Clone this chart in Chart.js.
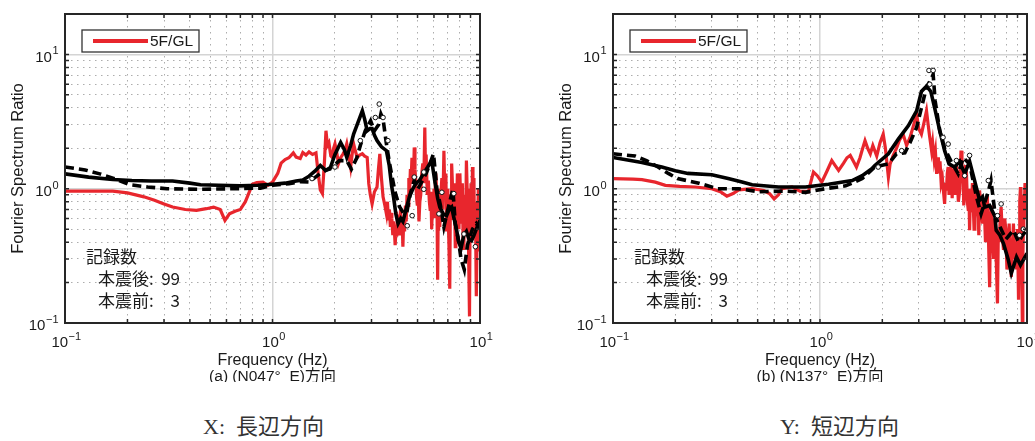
<!DOCTYPE html>
<html>
<head>
<meta charset="utf-8">
<script src="https://cdn.jsdelivr.net/npm/chart.js@4.4.1/dist/chart.umd.min.js"></script>
<style>
  body { margin: 0; background: #fff; width: 1035px; height: 441px; position: relative; overflow: hidden; }
  canvas { position: absolute; top: 0; }
  #chartX { left: 0; }
  #chartY { left: 517px; }
  .caption { position: absolute; top: 416px; font: 22px/22px "Liberation Serif", "Noto Sans CJK JP", serif; color: #333; white-space: pre; }
</style>
</head>
<body>
<canvas id="chartX" width="517" height="382"></canvas>
<canvas id="chartY" width="518" height="382"></canvas>
<div class="caption" style="left:203px">X:  長辺方向</div>
<div class="caption" style="left:780px">Y:  短辺方向</div>
<script>
// --- X direction (N047°E) ---
// 5F/GL ratio
var freqGlX = [0.1, 0.13, 0.17, 0.2, 0.24, 0.27, 0.3, 0.33, 0.38, 0.43, 0.48, 0.52, 0.56, 0.59, 0.62, 0.66, 0.7, 0.74, 0.77, 0.8,
  0.84, 0.9, 0.95, 1.0, 1.06, 1.1, 1.15, 1.2, 1.26, 1.3, 1.36, 1.4, 1.45, 1.5, 1.56, 1.62, 1.66, 1.7, 1.74, 1.78,
  1.81, 1.84, 1.87, 1.91, 1.94, 1.97, 2.0, 2.04, 2.08, 2.13, 2.19, 2.24, 2.28, 2.33, 2.38, 2.42, 2.46, 2.51, 2.56, 2.63,
  2.71, 2.78, 2.86, 2.91, 2.96, 3.02, 3.1, 3.19, 3.24, 3.29, 3.35, 3.41, 3.48,
  3.54, 3.58, 3.62, 3.66, 3.7, 3.73, 3.76, 3.8, 3.83, 3.87, 3.9, 3.94, 3.97, 4.0, 4.03, 4.07, 4.1, 4.14, 4.18, 4.22,
  4.25, 4.29, 4.33, 4.37, 4.41, 4.45, 4.5, 4.54, 4.58, 4.62, 4.65, 4.7, 4.74, 4.78, 4.82, 4.86, 4.9, 4.95, 4.99, 5.03,
  5.08, 5.13, 5.18, 5.24, 5.3, 5.36, 5.42, 5.46, 5.5, 5.57, 5.64, 5.7, 5.75, 5.8, 5.85, 5.9, 5.95, 6.0, 6.05, 6.12,
  6.2, 6.25, 6.28, 6.32, 6.36, 6.4, 6.47, 6.55, 6.62, 6.7, 6.75, 6.8, 6.85, 6.9, 6.95, 7.0, 7.08, 7.15, 7.2, 7.25,
  7.3, 7.38, 7.45, 7.52, 7.6, 7.65, 7.7, 7.78, 7.85, 7.92, 8.0, 8.07, 8.15, 8.22, 8.3, 8.37, 8.45, 8.52, 8.6, 8.67,
  8.75, 8.82, 8.9, 8.95, 9.0, 9.05, 9.1, 9.15, 9.2, 9.25, 9.3, 9.35, 9.4, 9.5, 9.6, 9.68, 9.75, 9.82, 9.9, 9.95, 10.0];
var ratioGlX = [0.96, 0.96, 0.96, 0.93, 0.87, 0.82, 0.77, 0.73, 0.7, 0.69, 0.71, 0.73, 0.7, 0.58, 0.65, 0.68, 0.7, 0.8, 0.93, 1.08,
  1.11, 1.12, 1.06, 1.12, 1.3, 1.55, 1.65, 1.7, 1.85, 1.72, 1.68, 1.86, 1.78, 1.88, 1.8, 1.85, 1.3, 0.98, 0.92, 1.6,
  2.7, 2.1, 2.2, 1.75, 1.71, 2.0, 2.16, 1.85, 1.54, 1.7, 1.82, 1.95, 2.16, 1.8, 1.45, 1.8, 2.16, 1.9, 1.71, 1.78,
  1.82, 1.75, 1.71, 1.09, 0.9, 0.77, 0.95, 1.03, 1.4, 1.82, 1.2, 0.87, 0.75,
  0.65, 0.8, 0.58, 0.7, 0.52, 0.66, 0.6, 0.45, 0.57, 0.48, 0.38, 0.5, 0.44, 0.62, 0.6, 0.45, 0.52, 0.7, 0.45, 0.55,
  0.37, 0.6, 0.48, 0.75, 0.57, 0.9, 0.75, 1.2, 0.95, 1.4, 1.09, 1.7, 1.55, 1.1, 2.03, 1.4, 1.15, 0.85, 0.75, 1.0,
  0.57, 0.8, 0.9, 1.3, 1.54, 1.1, 2.86, 1.4, 1.8, 0.9, 1.15, 0.8, 0.7, 0.95, 0.5, 0.75, 0.62, 1.0, 0.8, 1.3,
  0.87, 0.21, 0.5, 0.6, 1.0, 0.52, 0.9, 1.2, 0.7, 1.92, 1.1, 0.9, 1.3, 0.48, 1.0, 0.8, 0.4, 0.18, 0.9, 0.6,
  1.54, 1.0, 0.7, 1.1, 0.37, 0.8, 0.6, 1.3, 1.0, 0.5, 1.3, 0.8, 0.55, 1.1, 0.36, 0.7, 0.9, 0.45, 1.62, 1.0,
  0.7, 0.3, 0.112, 0.5, 0.4, 1.1, 0.8, 0.5, 1.45, 0.9, 0.6, 1.2, 0.43, 0.8, 0.158, 0.45, 0.6, 1.0, 0.35, 0.5, 0.62];
// average after the main shock (99 records)
var freqAfterX = [0.1, 0.13, 0.17, 0.21, 0.26, 0.33, 0.4, 0.45, 0.55, 0.7, 0.85, 1.0, 1.15, 1.3, 1.4, 1.5, 1.6, 1.7, 1.8, 1.89,
  2.0, 2.13, 2.22, 2.28, 2.38, 2.46, 2.58, 2.71, 2.78, 2.86, 2.95, 3.02, 3.1, 3.19, 3.35, 3.54, 3.65, 3.75, 3.83, 3.93,
  4.03, 4.15, 4.25, 4.4, 4.57, 4.75, 4.9, 5.1, 5.35, 5.6, 5.85, 6.05, 6.25, 6.4, 6.65, 6.9, 7.1, 7.3, 7.5, 7.7,
  7.9, 8.1, 8.35, 8.6, 8.85, 9.1, 9.35, 9.6, 10.0];
var ratioAfterX = [1.29, 1.22, 1.17, 1.15, 1.14, 1.14, 1.1, 1.07, 1.06, 1.05, 1.06, 1.08, 1.1, 1.14, 1.16, 1.24, 1.35, 1.49, 1.37, 1.4,
  1.8, 2.21, 1.95, 1.71, 2.1, 2.55, 3.1, 3.8, 3.3, 2.7, 2.8, 2.8, 2.5, 2.28, 2.05, 1.92, 1.5, 1.05, 0.87, 0.65,
  0.55, 0.6, 0.57, 0.7, 0.87, 1.0, 1.09, 1.15, 1.3, 1.45, 1.62, 1.15, 0.85, 0.73, 0.65, 0.63, 0.7, 0.73, 0.6, 0.5,
  0.4, 0.36, 0.45, 0.48, 0.42, 0.41, 0.45, 0.5, 0.58];
// average before the main shock (3 records)
var freqBeforeX = [0.1, 0.125, 0.147, 0.17, 0.206, 0.25, 0.31, 0.45, 0.65, 0.875, 1.0, 1.2, 1.36, 1.5, 1.7, 1.85, 1.97, 2.1, 2.28, 2.4,
  2.55, 2.65, 2.8, 2.97, 3.1, 3.25, 3.33, 3.41, 3.54, 3.65, 3.76, 3.9, 4.1, 4.3, 4.45, 4.6, 4.82, 5.0, 5.2, 5.5,
  5.75, 5.97, 6.2, 6.45, 6.7, 7.0, 7.4, 7.6, 7.9, 8.1, 8.4, 8.7, 8.9, 9.2, 9.6, 10.0];
var ratioBeforeX = [1.45, 1.38, 1.29, 1.2, 1.07, 1.03, 1.0, 0.99, 1.0, 1.01, 1.06, 1.09, 1.13, 1.12, 1.3, 1.4, 1.48, 1.62, 1.62, 1.4,
  1.7, 2.1, 2.7, 3.2, 2.7, 3.0, 3.6, 3.3, 2.16, 1.6, 1.25, 0.94, 0.73, 0.65, 0.68, 0.9, 1.15, 0.99, 1.1, 1.3,
  1.55, 1.82, 0.99, 0.75, 0.52, 0.7, 0.99, 0.55, 0.4, 0.3, 0.25, 0.38, 0.43, 0.5, 0.55, 0.5];
// individual pre-shock records
var freqRecX = [1.55, 2.0, 2.65, 3.13, 3.27, 3.41, 3.6, 4.46, 4.71, 4.82, 5.36, 5.36, 6.34, 6.55, 7.48, 8.37, 9.5];
var ratioRecX = [1.19, 1.45, 2.28, 3.39, 4.27, 3.39, 2.28, 0.53, 0.63, 1.22, 1.33, 0.99, 0.65, 0.94, 0.92, 0.46, 0.37];

// --- Y direction (N137°E) ---
var freqGlY = [0.1, 0.125, 0.138, 0.16, 0.179, 0.21, 0.25, 0.3, 0.33, 0.355, 0.38, 0.405, 0.47, 0.535, 0.57, 0.6, 0.63, 0.655, 0.7, 0.733,
  0.77, 0.8, 0.88, 0.9, 0.93, 0.97, 1.02, 1.08, 1.14, 1.18, 1.23, 1.3, 1.35, 1.4, 1.45, 1.5, 1.56, 1.6, 1.65, 1.7,
  1.75, 1.8, 1.88, 1.95, 2.02, 2.07, 2.14, 2.18, 2.25, 2.34, 2.42, 2.52, 2.62, 2.72, 2.82, 2.93, 3.0, 3.09, 3.18, 3.27,
  3.33, 3.38,
  3.46, 3.5, 3.56, 3.61, 3.66, 3.7, 3.73, 3.77, 3.8, 3.85, 3.9, 3.95, 4.0, 4.04, 4.08, 4.12, 4.16, 4.2, 4.25, 4.3,
  4.35, 4.4, 4.45, 4.5, 4.55, 4.6, 4.66, 4.73, 4.8, 4.85, 4.9, 4.95, 5.0, 5.05, 5.1, 5.15, 5.2, 5.24, 5.28, 5.33,
  5.4, 5.45, 5.49, 5.55, 5.6, 5.7, 5.8, 5.85, 5.9, 6.0, 6.1, 6.2, 6.3, 6.36, 6.43, 6.5, 6.55, 6.6, 6.65, 6.72,
  6.8, 6.9, 7.0, 7.1, 7.2, 7.27, 7.35, 7.42, 7.5, 7.6, 7.7, 7.8, 7.9, 8.0, 8.1, 8.2, 8.3, 8.4, 8.5, 8.6,
  8.7, 8.8, 8.9, 9.0, 9.1, 9.15, 9.2, 9.25, 9.3, 9.35, 9.4, 9.45, 9.5, 9.55, 9.6, 9.65, 9.7, 9.78, 9.85, 9.92, 10.0];
var ratioGlY = [1.19, 1.18, 1.17, 1.12, 1.06, 1.04, 1.03, 1.0, 0.95, 0.88, 0.92, 0.98, 1.0, 0.97, 0.92, 0.84, 0.9, 1.0, 1.02, 1.03,
  0.99, 0.96, 0.95, 1.1, 1.33, 1.25, 1.12, 1.35, 1.62, 1.5, 1.37, 1.55, 1.7, 1.77, 1.6, 1.45, 1.7, 1.95, 2.28, 2.0,
  1.82, 2.1, 1.75, 2.2, 2.55, 2.0, 1.22, 1.52, 1.75, 2.0, 2.3, 2.55, 2.1, 2.4, 2.9, 3.6, 2.8, 2.55, 3.1, 3.8,
  3.0, 2.5,
  1.92, 2.2, 1.65, 1.9, 1.29, 1.5, 1.71, 1.3, 1.6, 1.1, 1.2, 0.95, 0.77, 1.1, 0.97, 1.3, 1.45, 0.9, 1.1, 1.5,
  0.85, 1.4, 1.0, 0.9, 1.5, 1.3, 0.8, 0.97, 1.92, 1.1, 1.4, 0.75, 1.0, 1.5, 1.3, 0.8, 0.7, 1.0, 0.49, 0.9,
  0.8, 1.1, 0.82, 0.5, 0.6, 1.0, 0.73, 0.45, 0.97, 0.7, 0.55, 0.85, 0.4, 0.7, 0.9, 0.49, 0.3, 0.185, 0.5, 0.75,
  0.45, 0.3, 0.6, 0.3, 0.14, 0.5, 0.4, 0.6, 0.73, 0.45, 0.35, 0.6, 0.5, 0.25, 0.3, 0.55, 0.3, 0.22, 0.35, 0.55,
  0.3, 0.4, 0.25, 0.5, 0.149, 0.3, 0.5, 0.8, 1.03, 0.5, 0.3, 0.2, 0.089, 0.3, 0.5, 0.9, 0.7, 1.1, 1.0, 0.6, 0.95];
var freqAfterY = [0.1, 0.138, 0.172, 0.2, 0.23, 0.3, 0.36, 0.42, 0.47, 0.63, 0.85, 1.1, 1.43, 1.6, 1.78, 1.84, 2.14, 2.39, 2.67, 2.93,
  3.09, 3.27, 3.43, 3.58, 3.79, 4.0, 4.2, 4.47, 4.73, 5.0, 5.28, 5.58, 5.9, 6.1, 6.25, 6.6, 7.0, 7.1, 7.4, 7.7,
  8.1, 8.4, 8.9, 9.3, 10.0];
var ratioAfterY = [1.71, 1.57, 1.45, 1.36, 1.3, 1.27, 1.19, 1.12, 1.07, 1.03, 1.03, 1.08, 1.15, 1.25, 1.41, 1.49, 1.82, 2.34, 2.94, 3.8,
  5.3, 5.8, 5.3, 4.0, 2.7, 1.92, 1.53, 1.45, 1.6, 1.29, 1.6, 1.15, 0.82, 0.87, 0.73, 0.75, 0.62, 0.49, 0.45, 0.39,
  0.3, 0.235, 0.31, 0.27, 0.33];
var freqBeforeY = [0.1, 0.128, 0.145, 0.165, 0.185, 0.205, 0.26, 0.32, 0.405, 0.506, 0.68, 0.85, 1.06, 1.33, 1.6, 1.84, 2.14, 2.34, 2.57, 2.72,
  2.93, 3.09, 3.27, 3.45, 3.52, 3.6, 3.79, 4.0, 4.3, 4.65, 4.92, 5.28, 5.7, 6.0, 6.5, 6.7, 7.0, 7.2, 7.9, 8.6,
  9.1, 9.5, 10.0];
var ratioBeforeY = [1.82, 1.75, 1.62, 1.45, 1.3, 1.19, 1.1, 1.0, 1.0, 0.95, 0.96, 0.94, 1.0, 1.05, 1.19, 1.45, 1.53, 1.82, 1.85, 2.2,
  2.86, 4.0, 5.7, 6.6, 7.1, 4.5, 2.7, 2.0, 1.6, 1.29, 1.7, 1.53, 0.87, 0.65, 0.95, 1.15, 0.66, 0.57, 0.42, 0.49,
  0.4, 0.45, 0.49];
var freqRecY = [1.91, 2.48, 3.36, 3.39, 3.52, 3.93, 4.16, 4.56, 5.0, 5.28, 6.5, 7.2, 7.5, 9.2, 9.6];
var ratioRecY = [1.45, 1.92, 7.6, 6.0, 7.6, 2.41, 2.15, 1.62, 1.25, 1.77, 1.15, 0.63, 0.77, 0.45, 0.5];

var decades = [0.1, 1, 10];
var legendLabel = '5F/GL';
var noteTitle = '記録数';
var noteLabels = ['本震後:', '本震前:'];
var noteCounts = [99, 3];

var SANS = '"Liberation Sans", Arial, sans-serif';
var CJK = '"Noto Sans CJK JP", sans-serif';
var RED = '#e8262d';

function zip(xs, ys) {
  return xs.map(function (x, i) { return { x: x, y: ys[i] }; });
}

function isDecade(v) {
  var e = Math.log10(v);
  return Math.abs(e - Math.round(e)) < 1e-6;
}

// keep only 1..9 x 10^k ticks (drop the 1.5/15 extras)
function cleanTicks(scale) {
  scale.ticks = scale.ticks.filter(function (t) {
    var m = t.value / Math.pow(10, Math.floor(Math.log10(t.value) + 1e-9));
    return Math.abs(m - Math.round(m)) < 1e-6;
  });
}

function drawPower(ctx, value, x, y, align) {
  var exp = Math.round(Math.log10(value));
  var base = '10', sup = String(exp).replace('-', '\u2212');
  ctx.font = '15px ' + SANS;
  var wb = ctx.measureText(base).width;
  ctx.font = '11px ' + SANS;
  var ws = ctx.measureText(sup).width;
  var left = align === 'right' ? x - wb - ws : x - (wb + ws) / 2;
  ctx.textAlign = 'left';
  ctx.textBaseline = 'middle';
  ctx.font = '15px ' + SANS;
  ctx.fillText(base, left, y);
  ctx.font = '11px ' + SANS;
  ctx.fillText(sup, left + wb + 0.5, y - 6);
}

// box, inward ticks, decade labels, titles, legend and record count
var framePlugin = {
  id: 'frame',
  afterDatasetsDraw: function (chart, args, opts) {
    var ctx = chart.ctx, a = chart.chartArea, sx = chart.scales.x, sy = chart.scales.y;
    ctx.save();
    ctx.strokeStyle = '#262626';
    ctx.lineWidth = 1.5;
    ctx.beginPath();
    sx.ticks.forEach(function (t) {
      var px = sx.getPixelForValue(t.value);
      if (px < a.left + 2 || px > a.right - 2) return;
      ctx.moveTo(px, a.bottom); ctx.lineTo(px, a.bottom - 4);
      ctx.moveTo(px, a.top); ctx.lineTo(px, a.top + 4);
    });
    sy.ticks.forEach(function (t) {
      var py = sy.getPixelForValue(t.value);
      if (py < a.top + 2 || py > a.bottom - 2) return;
      ctx.moveTo(a.left, py); ctx.lineTo(a.left + 4, py);
      ctx.moveTo(a.right, py); ctx.lineTo(a.right - 4, py);
    });
    ctx.stroke();
    ctx.lineWidth = 2;
    ctx.strokeRect(a.left, a.top, a.right - a.left, a.bottom - a.top);

    ctx.fillStyle = '#1a1a1a';
    decades.forEach(function (v) {
      drawPower(ctx, v, sx.getPixelForValue(v) + 1, a.bottom + 20, 'center');
      drawPower(ctx, v, a.left - 7, sy.getPixelForValue(v) + 3, 'right');
    });

    ctx.font = '16px ' + SANS;
    ctx.textAlign = 'center';
    ctx.textBaseline = 'alphabetic';
    var cx = (a.left + a.right) / 2;
    ctx.fillText('Frequency (Hz)', cx, a.bottom + 42);
    ctx.font = '15.5px ' + SANS + ', ' + CJK;
    ctx.fillText(opts.caption, cx, a.bottom + 58);
    ctx.save();
    ctx.translate(a.left - 47, (a.top + a.bottom) / 2);
    ctx.rotate(-Math.PI / 2);
    ctx.textBaseline = 'middle';
    ctx.font = '16.5px ' + SANS;
    ctx.fillText('Fourier Spectrum Ratio', 0, 0);
    ctx.restore();

    // legend
    var lx = a.left + 17, ly = a.top + 16;
    ctx.fillStyle = '#fff';
    ctx.fillRect(lx, ly, 117, 22);
    ctx.strokeStyle = '#333';
    ctx.lineWidth = 1.3;
    ctx.strokeRect(lx, ly, 117, 22);
    ctx.strokeStyle = RED;
    ctx.lineWidth = 4;
    ctx.beginPath();
    ctx.moveTo(lx + 11, ly + 11);
    ctx.lineTo(lx + 66, ly + 11);
    ctx.stroke();
    ctx.fillStyle = '#1a1a1a';
    ctx.font = '15.5px ' + SANS;
    ctx.textAlign = 'left';
    ctx.textBaseline = 'middle';
    ctx.fillText(legendLabel, lx + 68, ly + 11.5);

    // record count
    ctx.font = '17px ' + CJK;
    ctx.textBaseline = 'alphabetic';
    ctx.fillText(noteTitle, a.left + 21, a.top + 249);
    noteLabels.forEach(function (s, i) {
      var by = a.top + 271 + i * 22;
      ctx.textAlign = 'left';
      ctx.fillText(s, a.left + 33, by);
      ctx.textAlign = 'right';
      ctx.fillText(String(noteCounts[i]), a.left + 115, by);
    });
    ctx.restore();
  }
};

function gridColor(ctx) {
  var v = ctx.tick && ctx.tick.value;
  return isDecade(v) ? '#d4d4d4' : 'rgba(0,0,0,0.32)';
}
function gridWidth(ctx) {
  return isDecade(ctx.tick && ctx.tick.value) ? 1.5 : 1;
}
function gridDash(ctx) {
  return isDecade(ctx.tick && ctx.tick.value) ? [] : [1.5, 4.5];
}

function makeChart(id, pad, caption, gl, after, before, rec) {
  var axis = function (max) {
    return {
      type: 'logarithmic',
      min: 0.1,
      max: max,
      afterBuildTicks: cleanTicks,
      ticks: { display: false, autoSkip: false },
      grid: { drawTicks: false, color: gridColor, lineWidth: gridWidth },
      border: { display: false, dash: gridDash }
    };
  };
  return new Chart(document.getElementById(id), {
    type: 'scatter',
    data: {
      datasets: [
        { label: 'pre records', data: rec, showLine: false, pointRadius: 2.3, pointBackgroundColor: '#fff',
          pointBorderColor: '#111', pointBorderWidth: 1 },
        { label: 'after', data: after, showLine: true, borderColor: '#000', borderWidth: 3.6, pointRadius: 0 },
        { label: 'before', data: before, showLine: true, borderColor: '#000', borderWidth: 3.6, borderDash: [9, 5], pointRadius: 0 },
        { label: legendLabel, data: gl, showLine: true, borderColor: RED, borderWidth: 3.2, pointRadius: 0 }
      ]
    },
    options: {
      responsive: false,
      animation: false,
      layout: { padding: pad },
      plugins: { legend: { display: false }, tooltip: { enabled: false }, frame: { caption: caption } },
      scales: { x: axis(10), y: axis(20) }
    },
    plugins: [framePlugin]
  });
}

makeChart('chartX', { left: 65, right: 37, top: 14, bottom: 59 }, '(a) (N047°  E)方向',
  zip(freqGlX, ratioGlX), zip(freqAfterX, ratioAfterX), zip(freqBeforeX, ratioBeforeX), zip(freqRecX, ratioRecX));
makeChart('chartY', { left: 96, right: 8, top: 14, bottom: 59 }, '(b) (N137°  E)方向',
  zip(freqGlY, ratioGlY), zip(freqAfterY, ratioAfterY), zip(freqBeforeY, ratioBeforeY), zip(freqRecY, ratioRecY));
</script>
</body>
</html>
